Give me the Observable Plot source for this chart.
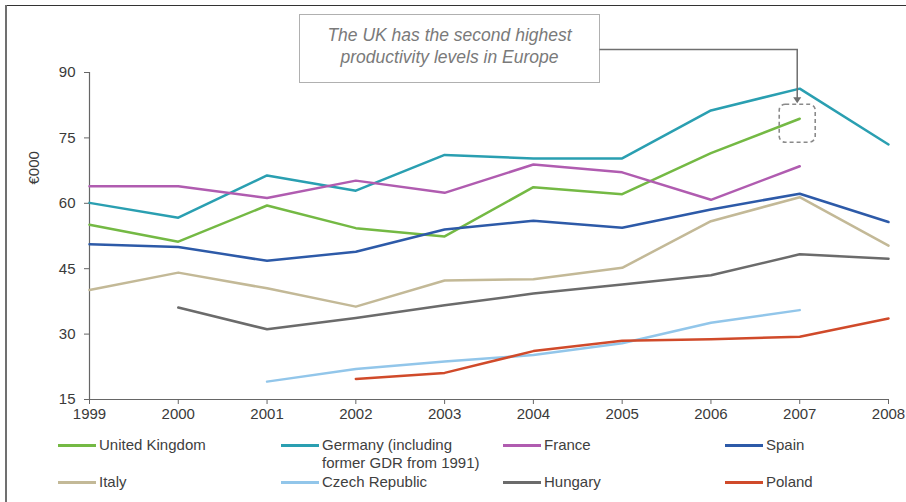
<!DOCTYPE html>
<html>
<head>
<meta charset="utf-8">
<script src="https://cdn.jsdelivr.net/npm/d3@7"></script>
<script src="https://cdn.jsdelivr.net/npm/@observablehq/plot@0.6"></script>
<style>
  html, body { margin: 0; padding: 0; background: #fff; }
  #wrap { position: relative; width: 906px; height: 502px; overflow: hidden; font-family: "Liberation Sans", Arial, sans-serif; }
  #wrap svg { position: absolute; left: 0; top: 0; }
  .frame-top { position: absolute; left: 5px; top: 5px; width: 901px; height: 1px; background: #333; }
  .frame-left { position: absolute; left: 5px; top: 5px; width: 2px; height: 497px; background: #707070; }
  .legend-item { position: absolute; display: flex; align-items: flex-start; font-size: 15px; line-height: 18px; color: #404040; white-space: pre-line; }
  .legend-item .sw { width: 38px; height: 3px; margin-top: 8px; margin-right: 3px; flex: none; }
</style>
</head>
<body>
<div id="wrap">
  <div class="frame-top"></div>
  <div class="frame-left"></div>
</div>
<script>
// Labour productivity per person employed, €000
const years = [1999, 2000, 2001, 2002, 2003, 2004, 2005, 2006, 2007, 2008];
const countries = ["United Kingdom", "Germany (including\nformer GDR from 1991)", "France", "Spain",
                   "Italy", "Czech Republic", "Hungary", "Poland"];
const colors = ["#74b944", "#2a9fb1", "#b05cb0", "#2d5aa8", "#c3b997", "#92c6ea", "#6b6b6b", "#d04a2a"];
const uk      = [55.1, 51.2, 59.5, 54.3, 52.4, 63.7, 62.1, 71.5, 79.4, null];
const germany = [60.1, 56.7, 66.4, 62.9, 71.1, 70.3, 70.3, 81.3, 86.3, 73.5];
const france  = [63.9, 63.9, 61.2, 65.2, 62.4, 68.9, 67.1, 60.8, 68.5, null];
const spain   = [50.6, 50.0, 46.8, 48.9, 54.0, 56.0, 54.4, 58.6, 62.2, 55.7];
const italy   = [40.1, 44.1, 40.5, 36.3, 42.3, 42.6, 45.2, 55.9, 61.4, 50.3];
const czech   = [null, null, 19.1, 22.0, 23.7, 25.2, 27.9, 32.6, 35.5, null];
const hungary = [null, 36.1, 31.1, 33.7, 36.6, 39.3, 41.4, 43.5, 48.3, 47.3];
const poland  = [null, null, null, 19.7, 21.1, 26.1, 28.5, 28.8, 29.4, 33.6];
const yTicks = [15, 30, 45, 60, 75, 90];
const note = ["The UK has the second highest", "productivity levels in Europe"];
const highlightYear = 2007;

const seriesValues = [uk, germany, france, spain, italy, czech, hungary, poland];
const rows = [];
seriesValues.forEach((vals, i) => {
  vals.forEach((v, j) => { if (v != null) rows.push({country: countries[i], year: years[j], value: v}); });
});

// Callout: text box, elbow connector and dashed highlight around the UK's 2007 point
function callout(index, scales, values, dims) {
  const px = scales.x(highlightYear);
  const py = scales.y(uk[years.indexOf(highlightYear)]);
  const g = d3.create("svg:g");
  const bx = 299.5, by = 14.5, bw = 300, bh = 68;
  const lineY = 49.5, ax = px - 2;
  g.append("rect").attr("x", bx).attr("y", by).attr("width", bw).attr("height", bh)
    .attr("fill", "#fff").attr("stroke", "#b0b0b0").attr("stroke-width", 1);
  g.append("text").attr("x", bx + bw / 2).attr("y", by + 26)
    .attr("text-anchor", "middle").attr("font-style", "italic").attr("font-size", 17.5)
    .attr("fill", "#7a7a7a").text(note[0]);
  g.append("text").attr("x", bx + bw / 2).attr("y", by + 48)
    .attr("text-anchor", "middle").attr("font-style", "italic").attr("font-size", 17.5)
    .attr("fill", "#7a7a7a").text(note[1]);
  const top = py - 14;
  g.append("path").attr("d", `M${bx + bw},${lineY}H${ax}V${top - 6}`)
    .attr("fill", "none").attr("stroke", "#6f6f6f").attr("stroke-width", 1.5);
  g.append("path").attr("d", `M${ax - 4},${top - 7}L${ax + 4},${top - 7}L${ax},${top - 1}Z`)
    .attr("fill", "#6f6f6f");
  g.append("rect").attr("x", px - 20).attr("y", top).attr("width", 36).attr("height", 38)
    .attr("rx", 6).attr("fill", "none").attr("stroke", "#8a8a8a")
    .attr("stroke-width", 1.6).attr("stroke-dasharray", "4,3");
  return g.node();
}

const chart = Plot.plot({
  width: 906,
  height: 425,
  marginLeft: 89,
  marginRight: 18,
  marginTop: 72,
  marginBottom: 26,
  style: {fontFamily: "Liberation Sans, Arial, sans-serif", fontSize: "15px", color: "#3a3a3a", background: "transparent"},
  x: {domain: [1999, 2008]},
  y: {domain: [15, 90]},
  color: {domain: countries, range: colors},
  marks: [
    Plot.ruleY([15], {stroke: "#666", strokeWidth: 1.2}),
    Plot.ruleX([1999], {stroke: "#666", strokeWidth: 1.2}),
    Plot.axisX({ticks: years, tickFormat: d => String(d), tickSize: 5, tickPadding: 4, stroke: "#666", fontSize: 15, label: null}),
    Plot.axisY({ticks: yTicks, tickSize: 5, tickPadding: 9, stroke: "#666", fontSize: 15, label: null}),
    Plot.text(["€000"], {frameAnchor: "top-left", dx: -61, dy: 112, rotate: -90, fontSize: 15, fill: "#3a3a3a"}),
    Plot.line(rows, {x: "year", y: "value", z: "country", stroke: "country", strokeWidth: 2.5}),
    callout
  ]
});

const wrap = document.getElementById("wrap");
wrap.appendChild(chart);

// Legend below the plot: four columns, two rows
const colLeft = [58, 281, 503, 725];
const rowTop = [436, 473];
countries.forEach((name, i) => {
  const item = document.createElement("div");
  item.className = "legend-item";
  item.style.left = colLeft[i % 4] + "px";
  item.style.top = rowTop[Math.floor(i / 4)] + "px";
  const sw = document.createElement("span");
  sw.className = "sw";
  sw.style.background = colors[i];
  const label = document.createElement("span");
  label.textContent = name;
  item.appendChild(sw);
  item.appendChild(label);
  wrap.appendChild(item);
});
</script>
</body>
</html>
